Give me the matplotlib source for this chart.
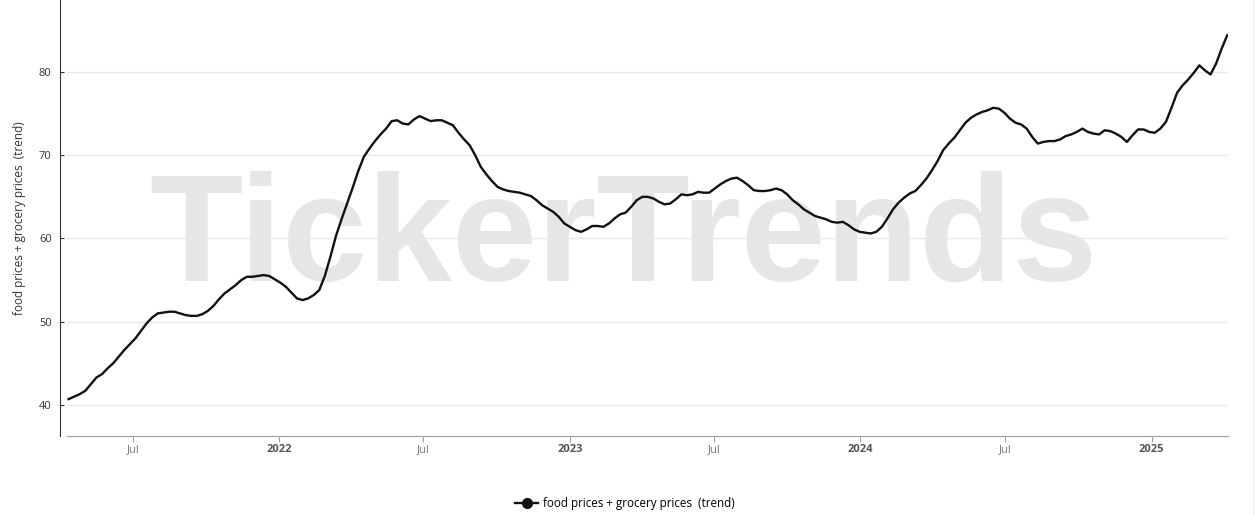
import numpy as np
import pandas as pd
import matplotlib
matplotlib.use('Agg')
import matplotlib.pyplot as plt
import matplotlib.dates as mdates
from matplotlib.lines import Line2D

# weekly trend values, starting 2021-04-11
start_date = '2021-04-11'
trend = [
    40.7, 41.0, 41.3, 41.7, 42.5, 43.3, 43.7, 44.4, 45.0, 45.8,
    46.6, 47.3, 48.0, 48.9, 49.8, 50.5, 51.0, 51.1, 51.2, 51.2,
    51.0, 50.8, 50.7, 50.7, 50.9, 51.3, 51.9, 52.7, 53.4, 53.9,
    54.4, 55.0, 55.4, 55.4, 55.5, 55.6, 55.5, 55.1, 54.7, 54.2,
    53.5, 52.8, 52.6, 52.8, 53.2, 53.8, 55.5, 57.8, 60.3, 62.3,
    64.2, 66.1, 68.1, 69.8, 70.8, 71.7, 72.5, 73.2, 74.1, 74.2,
    73.8, 73.7, 74.3, 74.7, 74.4, 74.1, 74.2, 74.2, 73.9, 73.6,
    72.7, 71.9, 71.2, 70.0, 68.6, 67.7, 66.9, 66.2, 65.9, 65.7,
    65.6, 65.5, 65.3, 65.1, 64.6, 64.0, 63.6, 63.2, 62.6, 61.8,
    61.4, 61.0, 60.8, 61.1, 61.5, 61.5, 61.4, 61.8, 62.4, 62.9,
    63.1, 63.8, 64.6, 65.0, 65.0, 64.8, 64.4, 64.1, 64.2, 64.7,
    65.3, 65.2, 65.3, 65.6, 65.5, 65.5, 66.0, 66.5, 66.9, 67.2,
    67.3, 66.9, 66.4, 65.8, 65.7, 65.7, 65.8, 66.0, 65.8, 65.3,
    64.6, 64.1, 63.5, 63.1, 62.7, 62.5, 62.3, 62.0, 61.9, 62.0,
    61.6, 61.1, 60.8, 60.7, 60.6, 60.8, 61.4, 62.4, 63.5, 64.3,
    64.9, 65.4, 65.7, 66.4, 67.2, 68.2, 69.3, 70.6, 71.4, 72.1,
    73.0, 73.9, 74.5, 74.9, 75.2, 75.4, 75.7, 75.6, 75.1, 74.4,
    73.9, 73.7, 73.2, 72.2, 71.4, 71.6, 71.7, 71.7, 71.9, 72.3,
    72.5, 72.8, 73.2, 72.8, 72.6, 72.5, 73.0, 72.9, 72.6, 72.2,
    71.6, 72.4, 73.1, 73.1, 72.8, 72.7, 73.2, 74.0, 75.7, 77.5,
    78.4, 79.1, 79.9, 80.8, 80.2, 79.7, 81.0, 82.8, 84.4,
]
dates = pd.date_range(start_date, periods=len(trend), freq='7D')

series_name = 'food prices + grocery prices  (trend)'
y_ticks = [40, 50, 60, 70, 80]
x_ticks = ['2021-07-01', '2022-01-01', '2022-07-01', '2023-01-01',
           '2023-07-01', '2024-01-01', '2024-07-01', '2025-01-01']
x_labels = ['Jul', '2022', 'Jul', '2023', 'Jul', '2024', 'Jul', '2025']

plt.rcParams['font.family'] = ['Open Sans', 'DejaVu Sans']

fig = plt.figure(figsize=(12.57, 5.15), dpi=100)
ax = fig.add_axes([67 / 1257, 79 / 515, (1228 - 67) / 1257, 436 / 515])

# watermark behind the data
ax.text(0.479, 0.445, 'TickerTrends', transform=ax.transAxes, ha='center', va='center',
        fontsize=110, fontweight='bold', family='Liberation Sans', color='#e6e6e6', zorder=0)

ax.plot(dates, trend, color='#111111', lw=1.7, zorder=3)

ax.set_xlim(pd.Timestamp('2021-04-09'), pd.Timestamp('2025-04-07'))
ax.set_ylim(36.27, 88.65)

ax.set_yticks(y_ticks)
ax.set_yticklabels([str(v) for v in y_ticks])
ax.grid(axis='y', color='#e6e9f4', lw=1)
ax.set_axisbelow(True)

ax.set_xticks(pd.to_datetime(x_ticks))
ax.set_xticklabels(x_labels)
for lab, txt in zip(ax.get_xticklabels(), x_labels):
    if txt != 'Jul':
        lab.set_fontweight('bold')
        lab.set_color('#555555')
    else:
        lab.set_color('#777777')

for s in ['top', 'right']:
    ax.spines[s].set_visible(False)
ax.spines['left'].set_position(('outward', 5))
ax.spines['left'].set_color('#333333')
ax.spines['bottom'].set_color('#a0a0a0')
ax.tick_params(axis='y', direction='in', length=3, color='#333333', labelsize=8,
               labelcolor='#333333', pad=6)
ax.tick_params(axis='x', direction='out', length=4, color='#a0a0a0', labelsize=8, pad=2)

ax.set_ylabel(series_name, fontsize=8.5, color='#333333', labelpad=9)

# thin border on the far right
fig.add_artist(Line2D([1253 / 1257, 1253 / 1257], [0, 1], color='#eeeeee', lw=1))

handle = Line2D([], [], color='#111111', lw=1.7, marker='o', markersize=7)
fig.legend([handle], [series_name], loc='center', bbox_to_anchor=(0.497, 11 / 515),
           frameon=False, fontsize=8.4, handlelength=2.0, handletextpad=0.4)

fig.savefig('out.png', dpi=100)
